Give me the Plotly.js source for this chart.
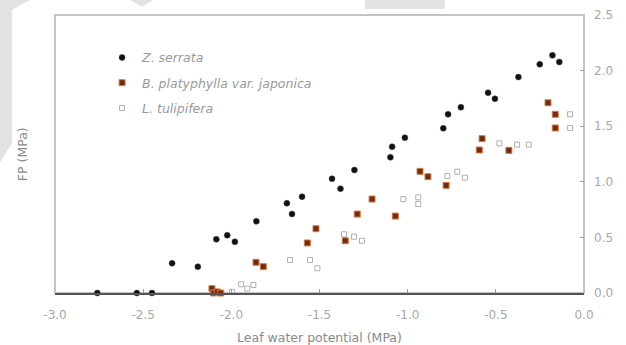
<!DOCTYPE html>
<html>
<head>
<meta charset="utf-8">
<script src="https://cdn.plot.ly/plotly-3.0.1.min.js"></script>
<style>html,body{margin:0;padding:0;background:#fff}#chart{width:626px;height:345px}</style>
</head>
<body>
<div id="chart"></div>
<script>
// Z. serrata
var zsX = [-2.76,-2.536,-2.45,-2.336,-2.19,-2.085,-2.023,-1.98,-1.858,-1.685,-1.656,-1.599,-1.429,-1.381,-1.302,-1.098,-1.088,-1.016,-0.798,-0.771,-0.698,-0.544,-0.505,-0.372,-0.251,-0.179,-0.14];
var zsY = [0,0,0,0.267,0.237,0.483,0.519,0.461,0.645,0.807,0.71,0.866,1.028,0.938,1.106,1.22,1.316,1.397,1.481,1.607,1.670,1.801,1.747,1.942,2.056,2.137,2.077];
// B. platyphylla var. japonica
var bpX = [-2.11,-2.10,-2.08,-2.06,-1.86,-1.819,-1.569,-1.52,-1.354,-1.286,-1.202,-1.07,-0.93,-0.885,-0.782,-0.594,-0.578,-0.426,-0.204,-0.163,-0.163];
var bpY = [0.04,0.0,0.01,0.0,0.276,0.237,0.45,0.578,0.47,0.71,0.845,0.692,1.094,1.046,0.968,1.286,1.388,1.283,1.711,1.607,1.484];
// L. tulipifera
var ltX = [-1.996,-1.944,-1.91,-1.875,-1.667,-1.554,-1.512,-1.361,-1.304,-1.259,-1.025,-0.94,-0.94,-0.775,-0.719,-0.676,-0.48,-0.38,-0.313,-0.079,-0.079];
var ltY = [0.01,0.078,0.04,0.072,0.297,0.297,0.222,0.528,0.506,0.47,0.845,0.86,0.80,1.052,1.091,1.037,1.346,1.334,1.334,1.607,1.484];

var names = ['<i>Z. serrata</i>', '<i>B. platyphylla var. japonica</i>', '<i>L. tulipifera</i>'];
var xTicks = [-3.0,-2.5,-2.0,-1.5,-1.0,-0.5,0.0];
var yTicks = [0.0,0.5,1.0,1.5,2.0,2.5];

var traces = [
  {x: zsX, y: zsY, name: names[0], type: 'scatter', mode: 'markers', legendgroup: 'a',
   marker: {symbol: 'circle', size: 6, color: '#111111', line: {color: '#444', width: 0.5}}, cliponaxis: false},
  {x: bpX, y: bpY, name: names[1], type: 'scatter', mode: 'markers', legendgroup: 'b',
   marker: {symbol: 'square', size: 6, color: '#6e2c14', line: {color: '#dd7a40', width: 1}}, cliponaxis: false},
  {x: ltX, y: ltY, name: names[2], type: 'scatter', mode: 'markers', legendgroup: 'c',
   marker: {symbol: 'square-open', size: 5, color: '#b0b0b0', line: {width: 1}}, cliponaxis: false}
];

var layout = {
  width: 626, height: 345,
  margin: {l: 55, r: 42, t: 15, b: 52},
  paper_bgcolor: '#fff', plot_bgcolor: '#fff',
  font: {family: 'DejaVu Sans, sans-serif', size: 12, color: '#a8a8a8'},
  showlegend: true,
  legend: {x: 0.089, y: 0.9, xanchor: 'left', yanchor: 'top', bgcolor: 'rgba(0,0,0,0)',
           font: {size: 12.5, color: '#9a9a9a'}, traceorder: 'grouped', tracegroupgap: 6},
  xaxis: {range: [-3.0, 0.0], tickvals: xTicks, ticktext: xTicks.map(function(v){return v.toFixed(1);}),
          showgrid: false, zeroline: false, showline: true, linecolor: '#555', linewidth: 1.5,
          ticks: 'inside', ticklen: 4, tickcolor: '#999', ticklabelstandoff: 10,
          title: {text: 'Leaf water potential (MPa)', font: {size: 12.5, color: '#8a8a8a'}, standoff: 12}},
  yaxis: {range: [0, 2.5], tickvals: yTicks, ticktext: yTicks.map(function(v){return v.toFixed(1);}),
          side: 'right', showgrid: false, zeroline: false, showline: false,
          ticks: 'inside', ticklen: 4, tickcolor: '#999', ticklabelstandoff: 9},
  annotations: [{text: 'FP (MPa)', xref: 'paper', yref: 'paper', x: -0.062, y: 0.5, textangle: -90,
                 xanchor: 'center', yanchor: 'middle',
                 showarrow: false, font: {size: 12.5, color: '#8a8a8a'}}],
  shapes: [
    {type: 'rect', xref: 'paper', yref: 'paper', x0: 0, x1: 1, y0: 0, y1: 1,
     line: {color: '#c4c4c4', width: 2}, layer: 'below'},
    {type: 'path', xref: 'paper', yref: 'paper', layer: 'below',
     path: 'M -0.104 1.054 L -0.047 1.054 L -0.081 1.02 L -0.081 0.54 L -0.104 0.47 Z',
     fillcolor: '#e2e2e2', line: {width: 0}},
    {type: 'path', xref: 'paper', yref: 'paper', layer: 'below',
     path: 'M 0.142 1.054 L 0.185 1.054 L 0.164 1.03 Z',
     fillcolor: '#e2e2e2', line: {width: 0}},
    {type: 'rect', xref: 'paper', yref: 'paper', layer: 'below',
     x0: 0.586, x1: 0.737, y0: 1.022, y1: 1.06, fillcolor: '#e2e2e2', line: {width: 0}}
  ]
};

Plotly.newPlot('chart', traces, layout, {displayModeBar: false, staticPlot: true});
</script>
</body>
</html>
